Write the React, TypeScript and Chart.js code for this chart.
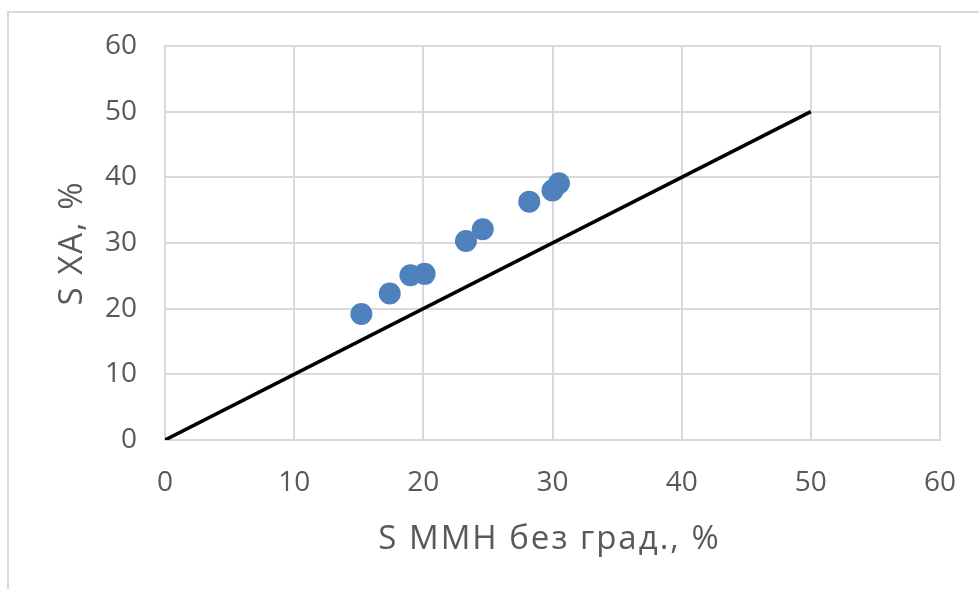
import React, { useEffect, useRef } from "react";
import { Chart, registerables } from "chart.js";

Chart.register(...registerables);

// Measured pairs: S MMH (without gradation) vs S XA, in percent
const sMmh: number[] = [15.2, 17.4, 19.0, 20.1, 23.3, 24.6, 28.2, 30.0, 30.5];
const sXa: number[] = [19.2, 22.3, 25.1, 25.3, 30.3, 32.1, 36.3, 38.0, 39.1];

// Reference line y = x
const lineX: number[] = [0, 50];
const lineY: number[] = [0, 50];

const axisMin = 0;
const axisMax = 60;
const tickStep = 10;

const xTitle = "S MMH без град., %";
const yTitle = "S XA, %";

const W = 979;
const H = 589;
const FONT = "'Open Sans', 'Liberation Sans', sans-serif";
const TEXT = "#595959";
const GRID = "#d9d9d9";
const TITLE_SIZE = 33;
const TICK_SIZE = 28;

// Axis titles drawn with a little extra letter spacing
const axisTitles = {
  id: "axisTitles",
  afterDraw(chart: any) {
    const { ctx, chartArea } = chart;
    const capHalf = (TITLE_SIZE * 0.714) / 2;
    ctx.save();
    ctx.fillStyle = TEXT;
    ctx.font = `${TITLE_SIZE}px ${FONT}`;
    (ctx as any).letterSpacing = "2px";
    ctx.textAlign = "center";
    ctx.textBaseline = "alphabetic";
    const cx = (chartArea.left + chartArea.right) / 2;
    ctx.fillText(xTitle, cx - 3, 537 + capHalf);
    ctx.translate(70 + capHalf, (chartArea.top + chartArea.bottom) / 2);
    ctx.rotate(-Math.PI / 2);
    ctx.fillText(yTitle, 0, 0);
    ctx.restore();
  },
};

export default function App() {
  const ref = useRef<HTMLCanvasElement | null>(null);

  useEffect(() => {
    if (!ref.current) return;
    const chart = new Chart(ref.current, {
      type: "scatter",
      data: {
        datasets: [
          {
            label: "points",
            data: sMmh.map((x, i) => ({ x, y: sXa[i] })),
            backgroundColor: "#4f81bd",
            borderColor: "#4f81bd",
            pointRadius: 11,
            pointHoverRadius: 11,
            borderWidth: 0,
            order: 2,
          },
          {
            type: "line",
            label: "y = x",
            data: lineX.map((x, i) => ({ x, y: lineY[i] })),
            borderColor: "#000000",
            borderWidth: 3.5,
            pointRadius: 0,
            showLine: true,
            fill: false,
            order: 1,
          } as any,
        ],
      },
      options: {
        responsive: false,
        animation: false,
        layout: { padding: { left: 0, top: 46, right: W - 940, bottom: 0 } },
        plugins: {
          legend: { display: false },
          tooltip: { enabled: false },
        },
        scales: {
          x: {
            type: "linear",
            min: axisMin,
            max: axisMax,
            ticks: {
              stepSize: tickStep,
              color: TEXT,
              font: { family: FONT, size: TICK_SIZE },
              padding: 26,
            },
            grid: { color: GRID, lineWidth: 2, drawTicks: false },
            border: { color: GRID, width: 2 },
            afterFit: (s: any) => {
              s.height = H - 440;
              s.paddingLeft = 0;
              s.paddingRight = 0;
            },
          },
          y: {
            type: "linear",
            min: axisMin,
            max: axisMax,
            ticks: {
              stepSize: tickStep,
              color: TEXT,
              font: { family: FONT, size: TICK_SIZE },
              padding: 28,
            },
            grid: { color: GRID, lineWidth: 2, drawTicks: false },
            border: { color: GRID, width: 2 },
            afterFit: (s: any) => {
              s.width = 165;
              s.paddingTop = 0;
              s.paddingBottom = 0;
            },
          },
        },
      },
      plugins: [axisTitles],
    });
    return () => chart.destroy();
  }, []);

  return (
    <div style={{ position: "fixed", left: 0, top: 0, width: W, height: H, background: "#fff" }}>
      <div
        style={{
          position: "absolute",
          left: 7,
          top: 11,
          right: 0,
          bottom: 0,
          borderLeft: `2px solid ${GRID}`,
          borderTop: `2px solid ${GRID}`,
        }}
      />
      <canvas ref={ref} width={W} height={H} style={{ position: "absolute", left: 0, top: 0 }} />
    </div>
  );
}
